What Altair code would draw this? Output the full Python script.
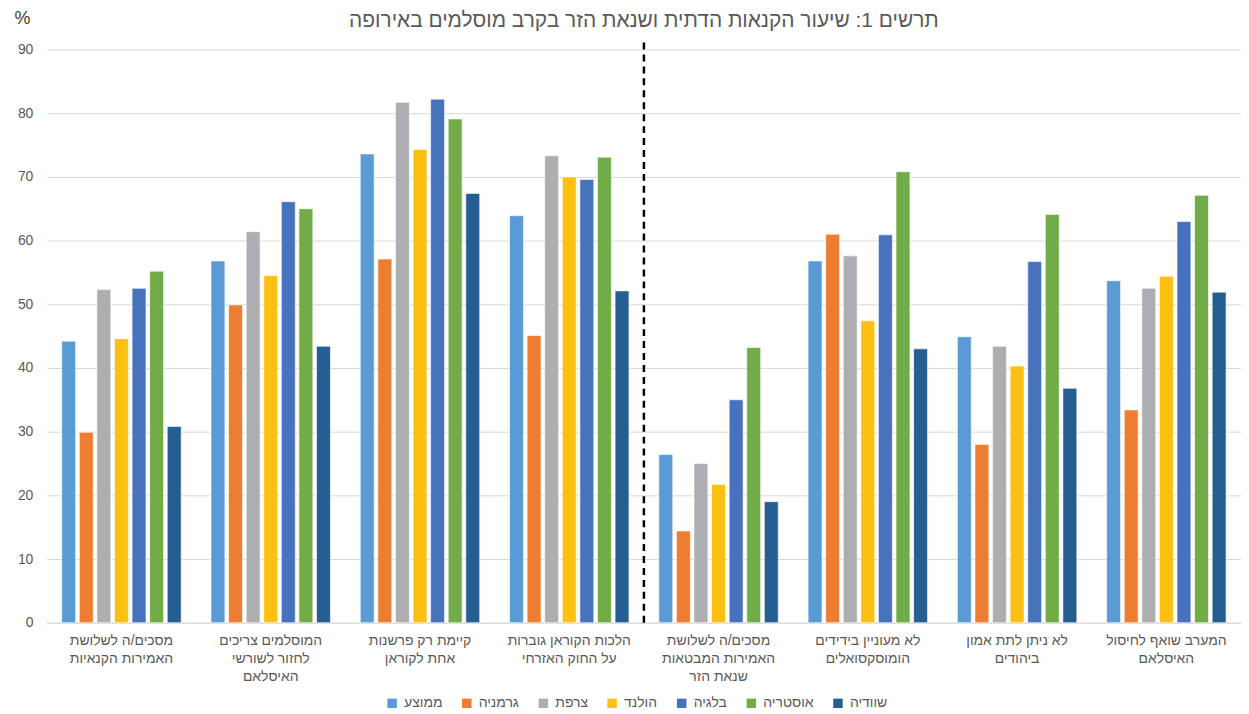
import altair as alt
import pandas as pd

categories = [
    "מסכים/ה לשלושת\nהאמירות הקנאיות",
    "המוסלמים צריכים\nלחזור לשורשי\nהאיסלאם",
    "קיימת רק פרשנות\nאחת לקוראן",
    "הלכות הקוראן גוברות\nעל החוק האזרחי",
    "מסכים/ה לשלושת\nהאמירות המבטאות\nשנאת הזר",
    "לא מעוניין בידידים\nהומוסקסואלים",
    "לא ניתן לתת אמון\nביהודים",
    "המערב שואף לחיסול\nהאיסלאם",
]
series = ["ממוצע", "גרמניה", "צרפת", "הולנד", "בלגיה", "אוסטריה", "שוודיה"]
colors = ["#5B9BD5", "#ED7D31", "#ADAEB1", "#FCC012", "#4672BE", "#72AC48", "#255E91"]

avg = [44.2, 56.8, 73.6, 63.9, 26.4, 56.8, 44.9, 53.7]
germany = [29.9, 49.9, 57.1, 45.1, 14.4, 61.0, 28.0, 33.4]
france = [52.3, 61.4, 81.7, 73.3, 25.0, 57.6, 43.4, 52.5]
netherlands = [44.6, 54.5, 74.3, 70.0, 21.7, 47.4, 40.3, 54.4]
belgium = [52.5, 66.1, 82.2, 69.6, 35.0, 60.9, 56.7, 63.0]
austria = [55.2, 65.0, 79.1, 73.1, 43.2, 70.8, 64.1, 67.1]
sweden = [30.8, 43.4, 67.4, 52.1, 19.0, 43.0, 36.8, 51.9]

title_text = "תרשים 1: שיעור הקנאות הדתית ושנאת הזר בקרב מוסלמים באירופה"

values = [avg, germany, france, netherlands, belgium, austria, sweden]
rows = []
for s, vals in zip(series, values):
    for c, v in zip(categories, vals):
        rows.append({"cat": c, "series": s, "value": v})
df = pd.DataFrame(rows)

W, H = 1200, 576
FONT = "Liberation Sans, DejaVu Sans, sans-serif"
GRAY = "#595959"

bars = alt.Chart(df).mark_bar(stroke="white", strokeWidth=0.6).encode(
    x=alt.X(
        "cat:N",
        sort=categories,
        scale=alt.Scale(paddingInner=0.2, paddingOuter=0.1),
        axis=alt.Axis(
            title=None,
            labelAngle=0,
            labelExpr="split(datum.label, '\\n')",
            labelFontSize=14,
            labelColor=GRAY,
            labelLineHeight=18,
            labelPadding=11,
            labelLimit=0,
            ticks=False,
            domainColor="#D9D9D9",
            labelFont=FONT,
        ),
    ),
    xOffset=alt.XOffset(
        "series:N", sort=series, scale=alt.Scale(paddingInner=0.21, paddingOuter=0)
    ),
    y=alt.Y(
        "value:Q",
        scale=alt.Scale(domain=[0, 90], nice=False),
        axis=alt.Axis(
            values=list(range(0, 91, 10)),
            title="%",
            titleAngle=0,
            titleX=-25,
            titleY=-31,
            titleAlign="center",
            titleBaseline="middle",
            titleFontSize=18,
            titleFontWeight="normal",
            titleColor="#404040",
            titleFont=FONT,
            labelFontSize=14,
            labelColor=GRAY,
            labelPadding=14,
            labelFont=FONT,
            ticks=False,
            domain=False,
            gridColor="#D9D9D9",
        ),
    ),
    color=alt.Color(
        "series:N",
        sort=series,
        scale=alt.Scale(domain=series, range=colors),
        legend=alt.Legend(
            title=None,
            orient="none",
            legendX=340,
            legendY=650,
            direction="horizontal",
            symbolType="square",
            symbolSize=90,
            symbolStrokeWidth=0,
            labelFontSize=14,
            labelColor=GRAY,
            labelFont=FONT,
            columnPadding=17,
            labelOffset=5,
        ),
    ),
)

divider = alt.Chart(pd.DataFrame({"d": [0]})).mark_rule(
    strokeDash=[7, 5], strokeWidth=2.5, color="black"
).encode(x=alt.value(W / 2), y=alt.value(-7), y2=alt.value(H))

chart = (
    alt.layer(bars, divider)
    .properties(
        width=W,
        height=H,
        title=alt.TitleParams(
            title_text, fontSize=21, color=GRAY, fontWeight="normal", font=FONT, offset=-21
        ),
        padding={"left": 5, "top": 0, "right": 0, "bottom": 0},
    )
    .configure_view(stroke=None)
)

chart.save("out.html", embed_options={"renderer": "svg", "actions": False})
